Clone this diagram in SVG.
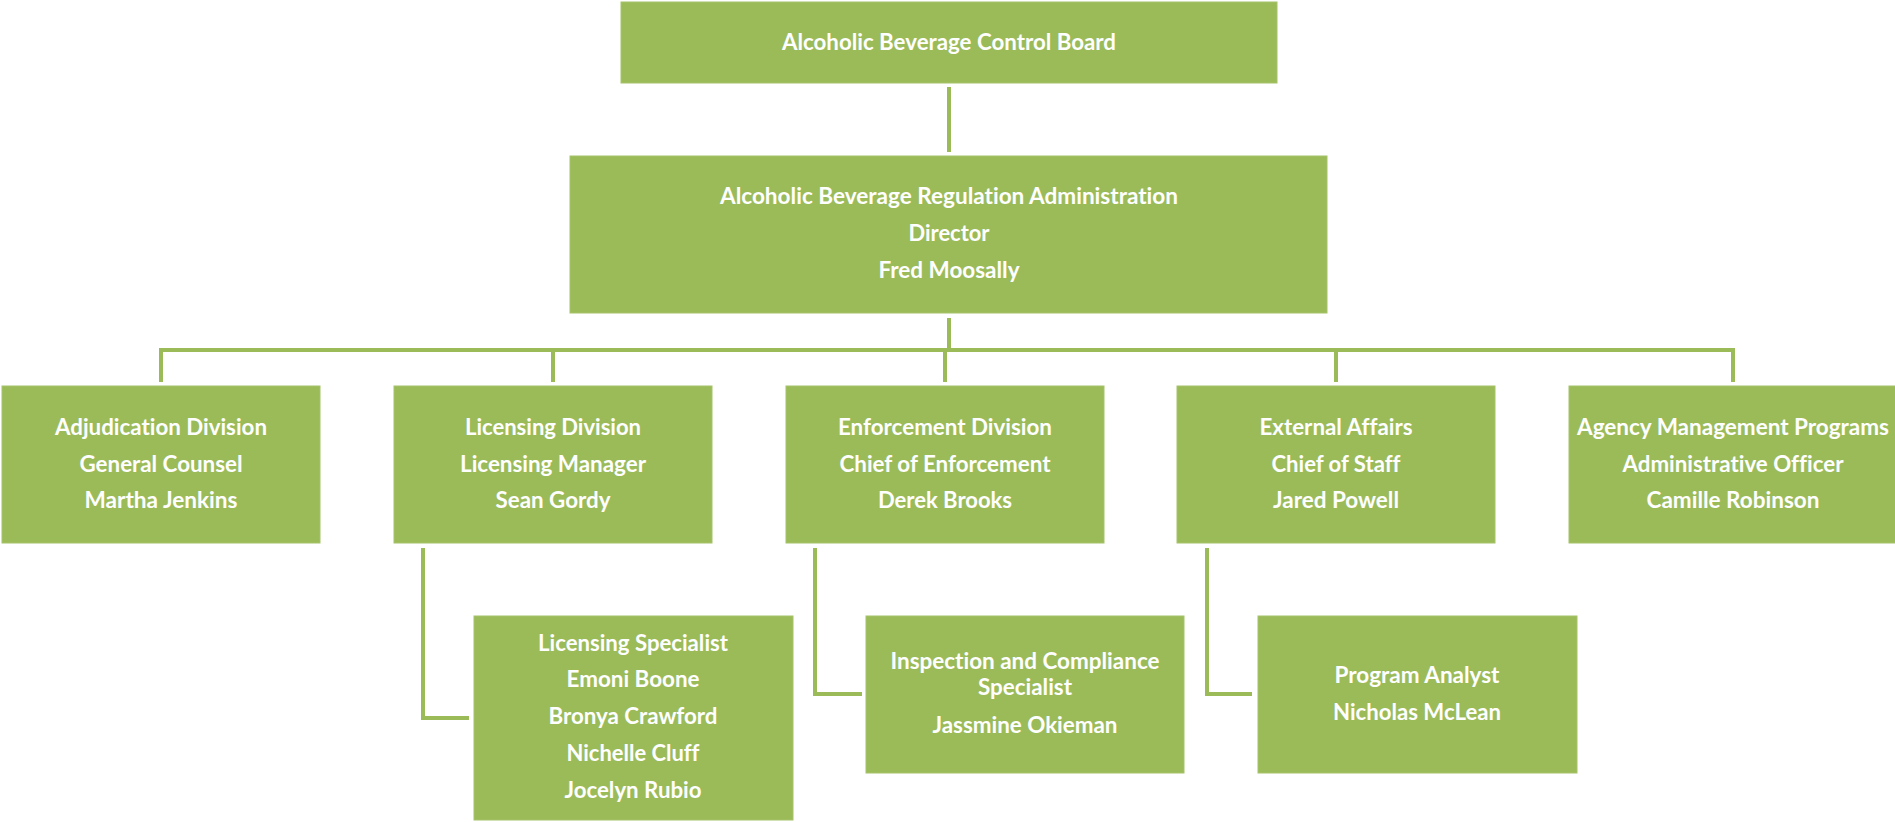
<svg xmlns="http://www.w3.org/2000/svg" width="1895" height="822" viewBox="0 0 1895 822">
<style>
.box{fill:#9BBB59;stroke:#A6C36A;stroke-width:1}
.t{font-family:Lato,"Liberation Sans","DejaVu Sans",sans-serif;font-weight:bold;font-size:22.5px;fill:#FFFFFF;text-anchor:middle;font-variant-ligatures:none;font-feature-settings:"liga" 0,"clig" 0}
.c{fill:none;stroke:#9BBB59;stroke-width:4;stroke-linejoin:miter;stroke-linecap:butt}
</style>
<rect width="1895" height="822" fill="#FFFFFF"/>
<g id="connectors">
<path class="c" d="M949,87 V152"/>
<path class="c" d="M949,318 V350"/>
<path class="c" d="M161,382 V350 H1733 V382"/>
<path class="c" d="M553,350 V382"/>
<path class="c" d="M945,350 V382"/>
<path class="c" d="M1336,350 V382"/>
<path class="c" d="M423,548 V718 H469"/>
<path class="c" d="M815,548 V694 H862"/>
<path class="c" d="M1207,548 V694 H1252"/>
</g>
<g id="board">
<rect class="box" x="621" y="2" width="656" height="81"/>
<text class="t" x="949" y="50" textLength="334" lengthAdjust="spacingAndGlyphs">Alcoholic Beverage Control Board</text>
</g>
<g id="administration">
<rect class="box" x="570" y="156" width="757" height="157"/>
<text class="t" x="949" y="204" textLength="458" lengthAdjust="spacingAndGlyphs">Alcoholic Beverage Regulation Administration</text>
<text class="t" x="949" y="241" textLength="81" lengthAdjust="spacingAndGlyphs">Director</text>
<text class="t" x="949" y="278" textLength="141" lengthAdjust="spacingAndGlyphs">Fred Moosally</text>
</g>
<g id="adjudication">
<rect class="box" x="2" y="386" width="318" height="157"/>
<text class="t" x="161" y="435" textLength="212" lengthAdjust="spacingAndGlyphs">Adjudication Division</text>
<text class="t" x="161" y="472" textLength="163" lengthAdjust="spacingAndGlyphs">General Counsel</text>
<text class="t" x="161" y="508" textLength="153" lengthAdjust="spacingAndGlyphs">Martha Jenkins</text>
</g>
<g id="licensing">
<rect class="box" x="394" y="386" width="318" height="157"/>
<text class="t" x="553" y="435" textLength="176" lengthAdjust="spacingAndGlyphs">Licensing Division</text>
<text class="t" x="553" y="472" textLength="186" lengthAdjust="spacingAndGlyphs">Licensing Manager</text>
<text class="t" x="553" y="508" textLength="115" lengthAdjust="spacingAndGlyphs">Sean Gordy</text>
</g>
<g id="enforcement">
<rect class="box" x="786" y="386" width="318" height="157"/>
<text class="t" x="945" y="435" textLength="214" lengthAdjust="spacingAndGlyphs">Enforcement Division</text>
<text class="t" x="945" y="472" textLength="211" lengthAdjust="spacingAndGlyphs">Chief of Enforcement</text>
<text class="t" x="945" y="508" textLength="134" lengthAdjust="spacingAndGlyphs">Derek Brooks</text>
</g>
<g id="external">
<rect class="box" x="1177" y="386" width="318" height="157"/>
<text class="t" x="1336" y="435" textLength="153" lengthAdjust="spacingAndGlyphs">External Affairs</text>
<text class="t" x="1336" y="472" textLength="129" lengthAdjust="spacingAndGlyphs">Chief of Staff</text>
<text class="t" x="1336" y="508" textLength="126" lengthAdjust="spacingAndGlyphs">Jared Powell</text>
</g>
<g id="agency">
<rect class="box" x="1569" y="386" width="330" height="157"/>
<text class="t" x="1733" y="435" textLength="312" lengthAdjust="spacingAndGlyphs">Agency Management Programs</text>
<text class="t" x="1733" y="472" textLength="221" lengthAdjust="spacingAndGlyphs">Administrative Officer</text>
<text class="t" x="1733" y="508" textLength="173" lengthAdjust="spacingAndGlyphs">Camille Robinson</text>
</g>
<g id="licensing-specialist">
<rect class="box" x="474" y="616" width="319" height="204"/>
<text class="t" x="633" y="651" textLength="190" lengthAdjust="spacingAndGlyphs">Licensing Specialist</text>
<text class="t" x="633" y="687" textLength="133" lengthAdjust="spacingAndGlyphs">Emoni Boone</text>
<text class="t" x="633" y="724" textLength="169" lengthAdjust="spacingAndGlyphs">Bronya Crawford</text>
<text class="t" x="633" y="761" textLength="133" lengthAdjust="spacingAndGlyphs">Nichelle Cluff</text>
<text class="t" x="633" y="798" textLength="137" lengthAdjust="spacingAndGlyphs">Jocelyn Rubio</text>
</g>
<g id="inspection">
<rect class="box" x="866" y="616" width="318" height="157"/>
<text class="t" x="1025" y="669" textLength="269" lengthAdjust="spacingAndGlyphs">Inspection and Compliance</text>
<text class="t" x="1025" y="695" textLength="94" lengthAdjust="spacingAndGlyphs">Specialist</text>
<text class="t" x="1025" y="733" textLength="185" lengthAdjust="spacingAndGlyphs">Jassmine Okieman</text>
</g>
<g id="program-analyst">
<rect class="box" x="1258" y="616" width="319" height="157"/>
<text class="t" x="1417" y="683" textLength="165" lengthAdjust="spacingAndGlyphs">Program Analyst</text>
<text class="t" x="1417" y="720" textLength="168" lengthAdjust="spacingAndGlyphs">Nicholas McLean</text>
</g>
</svg>
